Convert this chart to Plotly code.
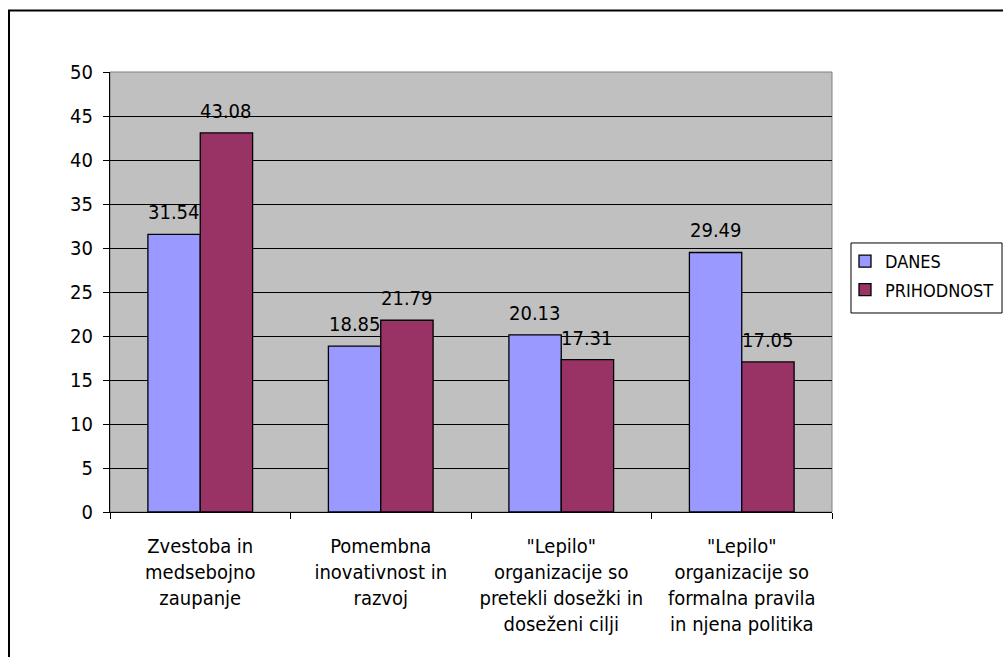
import plotly.graph_objects as go

categories = [
    "Zvestoba in<br>medsebojno<br>zaupanje",
    "Pomembna<br>inovativnost in<br>razvoj",
    "\"Lepilo\"<br>organizacije so<br>pretekli dosežki in<br>doseženi cilji",
    "\"Lepilo\"<br>organizacije so<br>formalna pravila<br>in njena politika",
]
danes = [31.54, 18.85, 20.13, 29.49]
prihodnost = [43.08, 21.79, 17.31, 17.05]
y_ticks = [0, 5, 10, 15, 20, 25, 30, 35, 40, 45, 50]

FONT = "DejaVu Sans Condensed, DejaVu Sans"
BARGAP = 0.42
series = [
    ("DANES", danes, "#9999FF"),
    ("PRIHODNOST", prihodnost, "#993366"),
]

fig = go.Figure()
for name, values, color in series:
    fig.add_trace(go.Bar(
        name=name, legendgroup=name, x=categories, y=values,
        marker=dict(color=color, line=dict(color="#000000", width=1.3)),
        hoverinfo="x+y",
    ))

# value labels centred above each bar of the group
bar_w = (1 - BARGAP) / len(series)
for k, (name, values, color) in enumerate(series):
    offset = (k - (len(series) - 1) / 2) * bar_w
    for i, v in enumerate(values):
        fig.add_annotation(
            x=i + offset, y=v, xref="x", yref="y",
            text=f"{v:.2f}", showarrow=False,
            yanchor="bottom", yshift=8,
            font=dict(family=FONT, size=20, color="#000000"),
        )

# outer chart frame
fig.add_shape(type="rect", xref="paper", yref="paper",
              x0=-0.1399, x1=1.3, y0=-0.5, y1=1.1398,
              line=dict(color="#000000", width=2), layer="below")
# plot area border
fig.add_shape(type="rect", xref="paper", yref="paper",
              x0=0, x1=1, y0=0, y1=1,
              line=dict(color="#808080", width=1), layer="below")
# legend box
fig.add_shape(type="rect", xref="paper", yref="paper",
              x0=1.0263, x1=1.2355, y0=0.4523, y1=0.6114,
              line=dict(color="#000000", width=1), fillcolor="#FFFFFF",
              layer="below")

fig.update_layout(
    width=1003, height=657,
    margin=dict(l=110, r=171, t=72, b=145, autoexpand=False),
    paper_bgcolor="#FFFFFF",
    plot_bgcolor="#C0C0C0",
    barmode="group",
    bargap=BARGAP,
    bargroupgap=0,
    font=dict(family=FONT, size=20, color="#000000"),
    showlegend=True,
    legend=dict(
        x=1.0180, y=0.6114, xanchor="left", yanchor="top",
        borderwidth=0, bgcolor="rgba(0,0,0,0)",
        font=dict(family=FONT, size=18, color="#000000"),
        itemwidth=30, tracegroupgap=2,
    ),
    xaxis=dict(
        showline=True, linecolor="#000000", linewidth=1,
        ticks="outside", ticklen=6, tickcolor="#000000",
        tickson="boundaries",
        tickfont=dict(family=FONT, size=20),
        ticklabelstandoff=16,
        showgrid=False,
    ),
    yaxis=dict(
        range=[0, 50], tickvals=y_ticks,
        showline=True, linecolor="#000000", linewidth=1,
        ticks="outside", ticklen=6, tickcolor="#000000",
        tickfont=dict(family=FONT, size=20),
        ticklabelstandoff=6,
        showgrid=True, gridcolor="#000000", gridwidth=1,
        zeroline=False,
    ),
)

fig.write_html("out.html")
